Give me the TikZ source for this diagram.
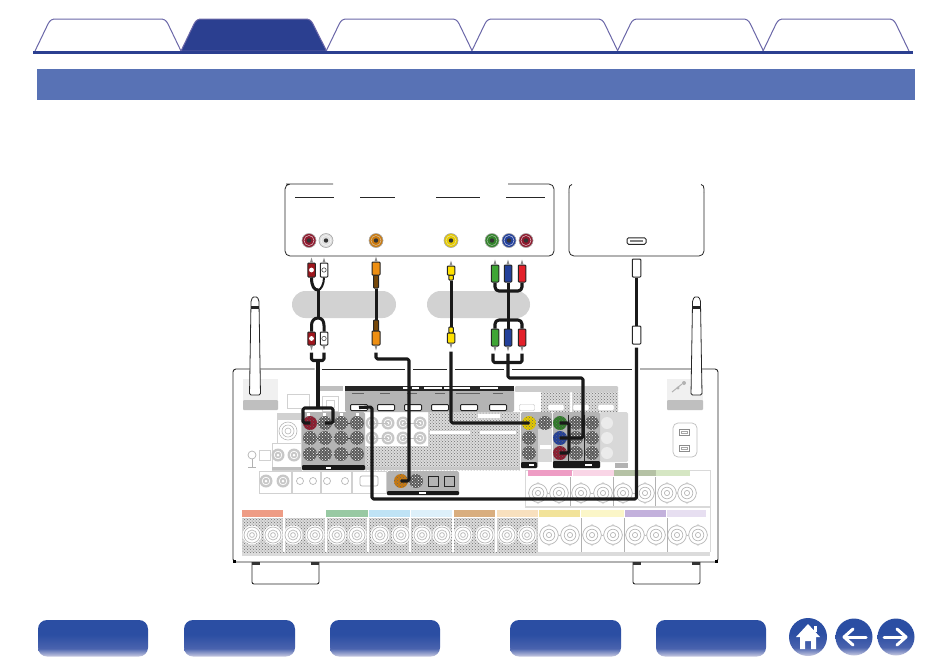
\documentclass[tikz,border=0pt]{standalone}
\usepackage{tikz}
\usetikzlibrary{patterns,calc}
\definecolor{navy}{HTML}{2B3F90}
\definecolor{tabedge}{HTML}{6B67A8}
\definecolor{band}{HTML}{5872B5}
\definecolor{pill}{HTML}{D2D2D2}
\definecolor{panelgrey}{HTML}{B4B4B4}
\definecolor{lightpanel}{HTML}{D8D8D8}
\definecolor{speck}{HTML}{707070}
\definecolor{pgreen}{HTML}{3FA535}
\definecolor{pblue}{HTML}{23409A}
\definecolor{pred}{HTML}{E3202A}
\definecolor{porange}{HTML}{EE8F12}
\definecolor{pyellow}{HTML}{FFE100}
\definecolor{dred}{HTML}{8E1A2E}
\definecolor{navlight}{HTML}{C9CBE2}
\definecolor{navmid}{HTML}{4A63AE}
\definecolor{navmain}{HTML}{2B4EA3}
\definecolor{c1}{HTML}{EE9C85}\definecolor{c3}{HTML}{98C9A3}\definecolor{c4}{HTML}{BFE3F5}\definecolor{c5}{HTML}{DDF0FA}
\definecolor{c6}{HTML}{D9AE7F}\definecolor{c7}{HTML}{F8E0BE}\definecolor{c8}{HTML}{F2E39A}\definecolor{c9}{HTML}{FBF6C8}
\definecolor{c10}{HTML}{C3B1DC}\definecolor{c11}{HTML}{E7DFF1}
\definecolor{u1}{HTML}{EE9CC4}\definecolor{u2}{HTML}{F9D5E6}\definecolor{u3}{HTML}{B5C2A5}\definecolor{u4}{HTML}{D5E6C3}
\pgfdeclareverticalshading{navfade}{100bp}{color(0bp)=(navlight); color(25bp)=(navlight); color(36bp)=(navmid); color(55bp)=(navmain); color(75bp)=(navmain); color(100bp)=(navmain)}
\tikzset{
  x=1pt,y=-1pt,
  tab/.style={draw=tabedge,line width=1pt,fill=white,line join=round},
  activetab/.style={draw=tabedge,line width=1pt,fill=navy,line join=round},
  navbtn/.style={rounded corners=9pt,shading=navfade,draw=none},
  srcbox/.style={draw=black!85,line width=.8pt,fill=white},
  jack/.style={circle,inner sep=0pt,minimum size=#1},
  jack/.default=14pt,
  cable/.style={draw=black!90,line width=3.1pt,line join=round,rounded corners=1.5pt},
  thincable/.style={draw=black!90,line width=3pt,line join=round},
  plugbody/.style={draw=black!85,line width=1pt,inner sep=0pt,rounded corners=.8pt},
  tip/.style={fill=black!45,draw=none},
  darkpanel/.style={fill=panelgrey,draw=none,rounded corners=1.5pt},
  blackbar/.style={fill=black!90,draw=none,rounded corners=1pt},
  speckle/.style={preaction={fill=black!14},pattern=crosshatch dots,pattern color=speck},
  faint/.style={draw=black!18,line width=.6pt,fill=white},
  link/.style={draw=black!75,line width=.8pt},
  faintlink/.style={draw=black!25,line width=.8pt},
  hport/.style={draw=black!85,line width=1pt,fill=white,rounded corners=1pt,inner sep=0pt,minimum width=17pt,minimum height=6pt},
  optical/.style={draw=black!85,line width=.8pt,fill=panelgrey,inner sep=0pt,minimum size=10pt},
  chassis/.style={draw=black!85,line width=.9pt},
  antenna/.style={draw=black!85,line width=.8pt,fill=white,line join=round},
}
% dark speckled socket
\newcommand{\darksock}[3]{\fill[black!65] (#2,#3) circle (7pt);
  \fill[pattern=crosshatch dots,pattern color=white] (#2,#3) circle (7pt);
  \fill[black!60] (#2,#3) circle (1.6pt);
  \coordinate (#1) at (#2,#3);}
% coloured socket
\newcommand{\colsock}[4]{\fill[#4] (#2,#3) circle (7pt);
  \fill[pattern=crosshatch dots,pattern color=black!60] (#2,#3) circle (7pt);
  \fill[black!75] (#2,#3) circle (1.4pt);
  \coordinate (#1) at (#2,#3);}
% faint socket
\newcommand{\lightsock}[2]{\fill[black!22] (#1,#2) circle (6.5pt);
  \draw[white,line width=.7pt] (#1,#2) circle (3.8pt);
  \fill[white] (#1,#2) circle (1.5pt);}
% binding post
\newcommand{\post}[2]{\fill[black!14] (#1-6.5,#2-6) -- (#1,#2-11) -- (#1+6.5,#2-6) -- (#1+10,#2) -- (#1+6.5,#2+6) -- (#1,#2+11) -- (#1-6.5,#2+6) -- (#1-10,#2) -- cycle;
  \draw[black!28,fill=white,line width=.7pt] (#1,#2) circle (9.3pt);
  \draw[black!28,line width=.7pt] (#1,#2) circle (5.8pt);
  \draw[black!28,line width=.7pt] (#1,#2) circle (2.6pt);}
% source jack
\newcommand{\srcjack}[4]{\node[jack,fill=#4,draw=black!35,line width=.6pt] (#1) at (#2,#3) {};
  \fill[black!80] (#1) circle (2.2pt);
  \draw[white!75!#4,line width=.5pt] (#1) circle (5pt);}
% plug: name, x, ytop, ybottom, width, fill
\newcommand{\plug}[6]{\node[plugbody,fill=#6,minimum width=#5pt,minimum height=#4pt-#3pt] (#1) at (#2,{(#3+#4)/2}) {};}

\begin{document}
\begin{tikzpicture}
\useasboundingbox (0,0) rectangle (950,665);
\fill[white] (0,0) rectangle (950,665);

%---- tabs
\foreach \i in {0,2,3,4,5}{
 \pgfmathsetmacro{\xx}{35+145.6*\i}
 \draw[tab] (\xx,51) -- (\xx+13,24) .. controls (\xx+15,20) and (\xx+17,19) .. (\xx+21,19)
   -- (\xx+125,19) .. controls (\xx+129,19) and (\xx+131,20) .. (\xx+133,24) -- (\xx+146,51);
}
\fill[activetab] (181,51) -- (194,24) .. controls (196,20) and (198,19) .. (202,19)
   -- (305,19) .. controls (309,19) and (311,20) .. (313,24) -- (326.6,51) -- cycle;
\fill[navy] (33,51) rectangle (913,54);
\fill[band] (37,69) rectangle (914.5,99.5);

%---- source boxes
\draw[srcbox,rounded corners=5pt] (333,184) -- (291,184) -- (285,184) -- (285,256) -- (554,256) -- (554,184) -- (508,184);
\foreach \a/\b in {295/334,360/395,436/480,506/545}{\draw[black!85,line width=.8pt] (\a,197.5) -- (\b,197.5);}
\srcjack{sR}{309}{240.5}{dred}
\srcjack{sW}{326}{240.5}{black!12}
\srcjack{sO}{376}{240.5}{porange!85!black}
\srcjack{sY}{451}{240.5}{pyellow!90!black}
\srcjack{sG}{492}{240.5}{pgreen!80!black}
\srcjack{sB}{509}{240.5}{pblue}
\srcjack{sP}{526}{240.5}{dred}
% second source box
\draw[black!85,line width=.8pt,rounded corners=5pt] (569,192) -- (569,256) -- (704,256) -- (704,192);
\draw[black!85,line width=.8pt] (569,192) -- (569,189) .. controls (569,186) and (570,185) .. (572,184.5);
\draw[black!85,line width=.8pt] (704,192) -- (704,189) .. controls (704,186) and (703,185) .. (701,184.5);
\node[draw=black!85,line width=1pt,rounded corners=1.5pt,fill=white,inner sep=0pt,minimum width=19pt,minimum height=6.5pt] (sH) at (636.5,241) {};
\fill[black!50] (630,240) rectangle (643,242);

%---- grey pills
\fill[pill,rounded corners=13.5pt] (292,291) rectangle (396,318);
\fill[pill,rounded corners=13.5pt] (427,291) rectangle (530,318);

%---- chassis
\draw[chassis,rounded corners=3pt] (314.5,369) -- (233,369) -- (233,562) -- (718,562) -- (718,369) -- (640,369);
\foreach \a/\b in {321.5/405,413/447,455/504,512/632}{\draw[chassis] (\a,369) -- (\b,369);}
\fill[black] (233,560) rectangle (236,563);
\fill[black] (715,560) rectangle (718,563);
% feet
\draw[chassis,rounded corners=2pt] (252,562) -- (252,584) -- (319,584) -- (319,562);
\draw[chassis,rounded corners=2pt] (633,562) -- (633,584) -- (700,584) -- (700,562);
\fill[black!80] (252,562) rectangle (260,564.5);
\fill[black!80] (311,562) rectangle (319,564.5);
\fill[black!80] (633,562) rectangle (641,564.5);
\fill[black!80] (692,562) rectangle (700,564.5);

%---- antenna bases
\fill[black!6] (243,379) rectangle (278,402);
\fill[black!25,rounded corners=1pt] (243,400) rectangle (278,410);
\fill[black!6] (667,379) rectangle (703,402);
\fill[black!25,rounded corners=1pt] (667,400) rectangle (703,410);
% antennas
\draw[antenna,rounded corners=1.5pt] (249.5,395) -- (251,303) .. controls (251,299) and (253,297) .. (255,297) .. controls (257,297) and (259,299) .. (259,303) -- (260.5,395) -- cycle;
\fill[black!85] (251,306) rectangle (259,309);
\draw[antenna,rounded corners=1.5pt] (691,395) -- (692.5,303) .. controls (692.5,299) and (694.5,297) .. (696.5,297) .. controls (698.5,297) and (700.5,299) .. (700.5,303) -- (702,395) -- cycle;
\fill[black!85] (692.5,306) rectangle (700.5,309);
% satellite mark
\draw[black!30,line width=1pt] (672,392) -- (682,384);
\fill[black!30] (684,383) circle (2pt);
\fill[black!30] (678,388) circle (1.6pt);

%---- small upper-left panels
\draw[faint] (287,394) rectangle (309,408);
\fill[black!25] (320,386) rectangle (343,391);
\draw[faint] (322,396) rectangle (338,411);
\draw[faint] (326,400) rectangle (334,407);
\fill[black!18] (277,413) rectangle (301,419);
\draw[faint] (277,419) rectangle (301,443);
\foreach \r in {9,6,3}{\draw[black!28,line width=.6pt] (288,431) circle (\r pt);}
% remote / trigger area
\draw[faint] (272,443) rectangle (301,470);
\fill[black!25] (272,467) rectangle (301,470);
\lightsock{278}{455}
\lightsock{294}{455}
\draw[faint] (259,450) rectangle (270,460);
\draw[black!30,line width=.7pt] (252,455) circle (4pt);
\draw[black!30,line width=.6pt] (252,459) -- (252,467) (248,467) -- (256,467);
\draw[faint] (259,471) rectangle (291,493);
\lightsock{266}{481}
\lightsock{283}{481}
\draw[faint] (292,471) rectangle (320,493);
\foreach \xx in {300,313}{\draw[black!28,line width=.7pt] (\xx,481) circle (3.5pt);}
\draw[faint] (321,471) rectangle (351,493);
\foreach \xx in {327,345}{\draw[black!28,line width=.7pt] (\xx,481) circle (3.5pt);}
\draw[faint] (352,471) rectangle (386,493);
\draw[black!30,line width=.7pt,rounded corners=2pt] (360,476) rectangle (378,486);

%---- middle speckle areas
\fill[speckle] (365,412) rectangle (520,470);
\fill[white] (365,412) rectangle (428,446);
\foreach \yy in {423,438}{
 \foreach \xx in {372,388,403,420}{\lightsock{\xx}{\yy}}
 \draw[faintlink] (372,\yy) -- (388,\yy) (403,\yy) -- (420,\yy);
}
\fill[white] (478,414) rectangle (500,418);
\fill[white] (430,431) rectangle (470,434);
\fill[white] (480,431) rectangle (516,434);
\fill[black!22] (365,467) rectangle (520,470);

%---- HDMI strip
\fill[darkpanel] (345,386) rectangle (514,412);
\fill[black!85] (345,386) rectangle (514,390.5);
\foreach \i/\xx in {1/359,2/386,3/413,4/440,5/469,6/498}{
 \node[hport] (hp\i) at (\xx,407.5) {};
}
\foreach \xx/\w in {352/12,380/10,407/10,435/10,456/24,493/10}{\fill[black!60] (\xx,393) rectangle +(\w,1.4);}
\foreach \xx/\w in {403/5,412/7,424/18,444/14,458/12,480/18}{\fill[white] (\xx,387.3) rectangle +(\w,1.6);}

%---- upper right speckle panels
\fill[black!20,rounded corners=1pt] (515,386) rectangle (618,392);
\fill[white] (515,392) rectangle (540,412);
\fill[speckle] (541,392) rectangle (570,412);
\fill[speckle] (572,392) rectangle (618,412);
\foreach \xx/\w in {527/15,556/16,581/16,606/16}{
 \node[draw=black!25,fill=white,inner sep=0pt,rounded corners=1pt,minimum width=\w pt,minimum height=6pt] at (\xx,407.5) {};
}

%---- P1
\fill[darkpanel] (302,412) rectangle (365,470);
\fill[blackbar] (302,465) rectangle (365,470);
\fill[white] (326,467) rectangle (331,469);
\foreach \xx in {308,324,341,357}{\fill[white] (\xx-1.5,412.5) rectangle +(3,3);}
\foreach \yy in {438,454}{
 \draw[link] (310,\yy) -- (325,\yy) (341,\yy) -- (357,\yy);
 \foreach \xx in {310,325,341,357}{\darksock{d\xx\yy}{\xx}{\yy}}
}
\draw[link] (310,423) -- (325,423) (341,423) -- (357,423);
\colsock{pR}{310}{423}{dred}
\darksock{pW}{325}{423}
\darksock{p3}{341}{423}
\darksock{p4}{357}{423}

%---- P3 (optical)
\fill[darkpanel] (387,471) rectangle (459,495);
\fill[blackbar] (387,491) rectangle (459,495);
\fill[white] (419,492) rectangle (426,494);
\colsock{pO}{401}{481}{porange!85!black}
\darksock{pO2}{416}{481}
\node[optical] (op1) at (433,481) {};
\node[optical] (op2) at (449.5,481) {};

%---- P4 + P5 + light panel
\fill[darkpanel] (521,412) -- (552,412) -- (552,429) -- (538,429) -- (538,468) -- (521,468) -- cycle;
\fill[lightpanel] (538,429) rectangle (552,462);
\fill[white] (540,445) rectangle (551,449);
\fill[blackbar] (521,462) rectangle (537,468);
\fill[white] (529,464) rectangle (534,466);
\colsock{pY}{529}{423}{pyellow!90!black}
\darksock{q1}{545}{423}
\darksock{q2}{529}{438}
\darksock{q3}{529}{453}
\fill[lightpanel,rounded corners=1.5pt] (600,412) rectangle (628,462);
\fill[black!30] (615,463) rectangle (628,468);
\foreach \yy in {423,438,453}{\fill[black!8] (607,\yy) circle (6pt);}
\fill[darkpanel] (553,412) rectangle (600,468);
\fill[blackbar] (553,461) rectangle (600,468);
\fill[white] (585,464) rectangle (592,466);
\draw[black!85,line width=.7pt] (568.5,415) -- (568.5,461) (584.5,415) -- (584.5,461);
\colsock{pG}{560}{423}{pgreen!75!black}
\colsock{pB}{560}{438}{pblue}
\colsock{pP}{560}{453}{dred}
\foreach \xx in {576,592}{\foreach \yy in {423,438,453}{\darksock{r\xx\yy}{\xx}{\yy}}}

%---- upper speaker row
\draw[black!15,line width=.6pt,fill=white] (525,470) rectangle (710,506);
\fill[black!15] (525,506) rectangle (710,508);
\fill[u1] (528,470) rectangle (572,476);
\fill[u2] (573,470) rectangle (614,476);
\fill[u3] (614,470) rectangle (656,476);
\fill[u4] (656,470) rectangle (690,476);
\foreach \a/\b in {538/559,581/603,623/645,667/687}{
 \draw[black!25,line width=1pt] (\a,493) -- (\b,493);
 \post{\a}{493}\post{\b}{493}
}
\foreach \xx in {570.5,613.5,655.5}{\draw[black!30,line width=.5pt] (\xx,477) -- (\xx,506);}

%---- lower speaker row
\fill[black!14] (242,552) rectangle (710,556);
\fill[speckle] (242,518) rectangle (538,552);
\foreach \xx in {284,326,368,410,453,496}{\fill[white] (\xx-.8,510) rectangle (\xx+.8,552);}
\fill[c1] (242,510) rectangle (283,517);
\fill[c3] (326,510) rectangle (368,517);
\fill[c4] (369,510) rectangle (410,517);
\fill[c5] (411,510) rectangle (452,517);
\fill[c6] (454,510) rectangle (495,517);
\fill[c7] (497,510) rectangle (538,517);
\fill[c8] (539,510) rectangle (580,517);
\fill[c9] (581,510) rectangle (624,517);
\fill[c10] (625,510) rectangle (666,517);
\fill[c11] (667,510) rectangle (706,517);
\fill[white] (539,518) rectangle (710,552);
\foreach \xx in {252,273,293,315,337,357,380,401,422,442,463,485,507,527}{
 \fill[white] (\xx,535) circle (9.5pt);
 \draw[black!28,line width=.7pt] (\xx,535) circle (8pt);
 \draw[black!28,line width=.7pt] (\xx,535) circle (5pt);
 \draw[black!28,line width=.7pt] (\xx,535) circle (2.4pt);
}
\foreach \a/\b in {549/570,592/613,635/656,677/698}{
 \draw[black!25,line width=1pt] (\a,535) -- (\b,535);
 \post{\a}{535}\post{\b}{535}
}
\foreach \xx in {581.5,624.5,667}{\draw[black!30,line width=.5pt] (\xx,518) -- (\xx,552);}
\draw[black!15,line width=.6pt] (710,470) -- (710,552);

%---- AC inlet
\draw[black!25,line width=.7pt,rounded corners=5pt] (673,423) rectangle (697,457);
\foreach \yy in {432,448}{\draw[black!45,line width=.7pt] (679,\yy-3) rectangle (689,\yy+3);\draw[black!35,line width=.5pt] (681,\yy-1) rectangle (687,\yy+1);}

%---- plugs (upper and lower)
\plug{uR}{311.5}{263}{277}{7.5}{pred!70!black}
\plug{uW}{324}{263}{277}{7.5}{white}
\plug{lR}{311.5}{332}{345}{7.5}{pred!70!black}
\plug{lW}{324}{332}{345}{7.5}{white}
\plug{uOc}{376}{275}{288}{5}{porange!50!black}
\plug{uO}{376}{262}{275}{8}{porange}
\plug{lOc}{376}{320}{331}{5}{porange!50!black}
\plug{lO}{376}{331}{345}{8}{porange}
\plug{uYn}{451}{275}{280}{4.5}{pyellow}
\plug{uY}{451}{266}{275}{7.5}{pyellow}
\plug{lYn}{451}{327}{333}{4.5}{pyellow}
\plug{lY}{451}{333}{343}{7.5}{pyellow}
\plug{uG}{495}{265}{282}{7.5}{pgreen}
\plug{uB}{508}{265}{282}{7.5}{pblue}
\plug{uP}{522}{265}{282}{7.5}{pred}
\plug{lG}{495}{329}{346}{7.5}{pgreen}
\plug{lB}{508}{329}{346}{7.5}{pblue}
\plug{lP}{522}{329}{346}{7.5}{pred}
\plug{uH}{636.5}{259}{277}{8.5}{white}
\plug{lH}{636.5}{326}{344}{8.5}{white}
\foreach \n in {uR,lR}{\fill[white] (\n.center) circle (2.4pt);}
\foreach \n in {uW,lW}{\draw[black!70,line width=.6pt,fill=white] (\n.center) circle (2.2pt);}
% plug tips
\foreach \n in {uR,uW,uO,uY,uG,uB,uP}{\fill[tip] ($(\n.north)+(-1.5,0)$) -- ($(\n.north)+(0,-5)$) -- ($(\n.north)+(1.5,0)$) -- cycle;}
\foreach \n in {lR,lW,lO,lY,lG,lB,lP}{\fill[tip] ($(\n.south)+(-1.5,0)$) -- ($(\n.south)+(0,5)$) -- ($(\n.south)+(1.5,0)$) -- cycle;}

%---- cables between the plugs
\coordinate (jRWa) at (318,290);
\coordinate (jRWb) at (318,318);
\draw[thincable] (uR.south) .. controls (311.5,286) and (314,290) .. (jRWa);
\draw[thincable,line width=2pt] (uW.south) .. controls (324,284) and (321,290) .. (jRWa);
\draw[thincable] (jRWa) -- (jRWb);
\draw[thincable] (lR.north) -- ++(0,-6) .. controls (311.5,321) and (314,318) .. (jRWb);
\draw[thincable] (lW.north) -- ++(0,-6) .. controls (324,321) and (322,318) .. (jRWb);
\draw[thincable] (uOc.south) -- (lOc.north);
\draw[thincable] (uYn.south) -- (lYn.north);
\coordinate (jCa) at (508,291);
\coordinate (jCb) at (508,320);
\draw[cable,rounded corners=4pt] (uG.south) |- (jCa);
\draw[cable,rounded corners=4pt] (uP.south) |- (jCa);
\draw[thincable] (uB.south) -- (lB.north);
\draw[cable,rounded corners=4pt] (lG.north) |- (jCb);
\draw[cable,rounded corners=4pt] (lP.north) |- (jCb);
\draw[thincable] (uH.south) -- (lH.north);

%---- cables into the receiver
\coordinate (cRW) at (318,360.5);
\coordinate (cRWL) at (303,408);
\coordinate (cRWR) at (333,408);
\coordinate (cRWj) at (318,408);
\draw[cable] ($(lR.south)+(0,7)$) |- (cRW) -| ($(lW.south)+(0,7)$);
\draw[cable] (cRW) -- (cRWj);
\draw[cable] (pR) -| (cRWL) -- (cRWR) |- (pW);

\coordinate (cOa) at (409,359);
\draw[cable] ($(lO.south)+(0,7)$) |- (cOa) |- (pO);

\coordinate (cYa) at (451,423);
\draw[cable] ($(lY.south)+(0,8)$) -- (cYa) -- (pY);

\coordinate (cCa) at (508,378);
\coordinate (cCb) at (583,378);
\coordinate (cCc) at (583,438);
\coordinate (cCd) at (569,423);
\coordinate (cCe) at (569,453);
\draw[cable] ($(lG.south)+(-2,7)$) |- ($(lB.south)+(0,16)$) -| ($(lP.south)+(0,7)$);
\draw[cable] ($(lB.south)+(0,7)$) -- (cCa) -- (cCb) -- (cCc) -- (pB);
\draw[cable] (pG) -- (cCd) -- (cCe) -- (pP);

\coordinate (cHa) at (636.5,499);
\coordinate (cHb) at (372,499);
\coordinate (cHc) at (372,407);
\draw[cable] ($(lH.south)+(0,3)$) -- (cHa) -- (cHb) -- (cHc) -- (hp1.center);

%---- footer buttons
\foreach \a/\b in {38/148,184/295,330/440,510/621,656/766}{
 \path[navbtn] (\a,620) rectangle (\b,656.5);
}
\foreach \xx/\r in {808/19,854/18.5,896/18.5}{
 \path[shading=navfade] (\xx,637) circle (\r pt);
}
% home icon
\fill[white] (808,624) -- (820,637) -- (816,637) -- (816,649) -- (811,649) -- (811,641) -- (805,641) -- (805,649) -- (800,649) -- (800,637) -- (796,637) -- cycle;
\fill[white] (814,626) rectangle (817,632);
% arrows
\draw[white,line width=3pt,line cap=round,line join=round] (866,637) -- (846,637);
\draw[white,line width=3pt,line cap=round,line join=round] (853,629) -- (844,637) -- (853,645);
\draw[white,line width=3pt,line cap=round,line join=round] (884,637) -- (904,637);
\draw[white,line width=3pt,line cap=round,line join=round] (897,629) -- (906,637) -- (897,645);
\end{tikzpicture}
\end{document}
